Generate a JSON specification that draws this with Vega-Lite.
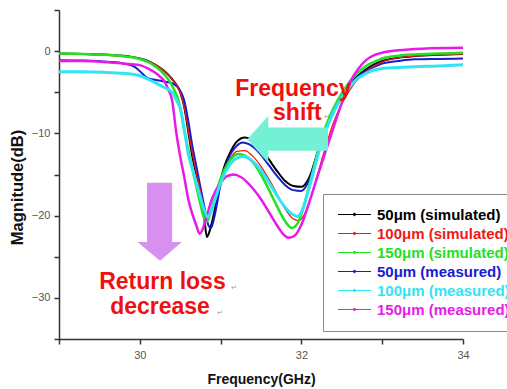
{
  "$schema": "https://vega.github.io/schema/vega-lite/v6.json",
  "width": 404,
  "height": 329,
  "autosize": {"type": "none"},
  "padding": {"left": 59, "top": 10, "right": 44, "bottom": 50},
  "config": {"view": {"stroke": null}, "font": "Liberation Sans"},
  "datasets": {
    "curves": [
      {"s":"50μm (simulated)","f":29.0,"m":-0.3},{"s":"50μm (simulated)","f":29.3,"m":-0.35},{"s":"50μm (simulated)","f":29.6,"m":-0.45},{"s":"50μm (simulated)","f":29.9,"m":-0.7},{"s":"50μm (simulated)","f":30.0,"m":-0.9},{"s":"50μm (simulated)","f":30.1,"m":-1.2},{"s":"50μm (simulated)","f":30.2,"m":-1.7},{"s":"50μm (simulated)","f":30.3,"m":-2.4},{"s":"50μm (simulated)","f":30.4,"m":-3.4},{"s":"50μm (simulated)","f":30.5,"m":-5.0},{"s":"50μm (simulated)","f":30.55,"m":-6.8},{"s":"50μm (simulated)","f":30.6,"m":-9.8},{"s":"50μm (simulated)","f":30.65,"m":-12.8},{"s":"50μm (simulated)","f":30.7,"m":-15.0},{"s":"50μm (simulated)","f":30.75,"m":-17.2},{"s":"50μm (simulated)","f":30.8,"m":-20.5},{"s":"50μm (simulated)","f":30.83,"m":-22.6},{"s":"50μm (simulated)","f":30.86,"m":-22.0},{"s":"50μm (simulated)","f":30.9,"m":-20.5},{"s":"50μm (simulated)","f":30.95,"m":-18.2},{"s":"50μm (simulated)","f":31.0,"m":-15.7},{"s":"50μm (simulated)","f":31.05,"m":-13.9},{"s":"50μm (simulated)","f":31.1,"m":-12.7},{"s":"50μm (simulated)","f":31.2,"m":-11.0},{"s":"50μm (simulated)","f":31.3,"m":-10.5},{"s":"50μm (simulated)","f":31.4,"m":-10.8},{"s":"50μm (simulated)","f":31.5,"m":-11.8},{"s":"50μm (simulated)","f":31.6,"m":-13.2},{"s":"50μm (simulated)","f":31.7,"m":-14.6},{"s":"50μm (simulated)","f":31.8,"m":-15.8},{"s":"50μm (simulated)","f":31.9,"m":-16.4},{"s":"50μm (simulated)","f":32.0,"m":-16.5},{"s":"50μm (simulated)","f":32.1,"m":-15.3},{"s":"50μm (simulated)","f":32.2,"m":-12.3},{"s":"50μm (simulated)","f":32.3,"m":-9.4},{"s":"50μm (simulated)","f":32.4,"m":-7.1},{"s":"50μm (simulated)","f":32.5,"m":-5.4},{"s":"50μm (simulated)","f":32.6,"m":-4.0},{"s":"50μm (simulated)","f":32.7,"m":-3.0},{"s":"50μm (simulated)","f":32.8,"m":-2.2},{"s":"50μm (simulated)","f":32.9,"m":-1.6},{"s":"50μm (simulated)","f":33.0,"m":-1.2},{"s":"50μm (simulated)","f":33.2,"m":-0.8},{"s":"50μm (simulated)","f":33.4,"m":-0.6},{"s":"50μm (simulated)","f":33.7,"m":-0.45},{"s":"50μm (simulated)","f":34.0,"m":-0.35},

      {"s":"100μm (simulated)","f":29.0,"m":-0.35},{"s":"100μm (simulated)","f":29.3,"m":-0.4},{"s":"100μm (simulated)","f":29.6,"m":-0.5},{"s":"100μm (simulated)","f":29.9,"m":-0.75},{"s":"100μm (simulated)","f":30.0,"m":-0.9},{"s":"100μm (simulated)","f":30.1,"m":-1.2},{"s":"100μm (simulated)","f":30.2,"m":-1.7},{"s":"100μm (simulated)","f":30.3,"m":-2.4},{"s":"100μm (simulated)","f":30.4,"m":-3.4},{"s":"100μm (simulated)","f":30.5,"m":-5.0},{"s":"100μm (simulated)","f":30.55,"m":-6.8},{"s":"100μm (simulated)","f":30.6,"m":-9.6},{"s":"100μm (simulated)","f":30.65,"m":-12.4},{"s":"100μm (simulated)","f":30.7,"m":-14.8},{"s":"100μm (simulated)","f":30.75,"m":-17.0},{"s":"100μm (simulated)","f":30.8,"m":-19.4},{"s":"100μm (simulated)","f":30.84,"m":-20.6},{"s":"100μm (simulated)","f":30.9,"m":-19.0},{"s":"100μm (simulated)","f":30.95,"m":-17.2},{"s":"100μm (simulated)","f":31.0,"m":-15.6},{"s":"100μm (simulated)","f":31.1,"m":-13.4},{"s":"100μm (simulated)","f":31.2,"m":-12.2},{"s":"100μm (simulated)","f":31.3,"m":-12.1},{"s":"100μm (simulated)","f":31.4,"m":-12.8},{"s":"100μm (simulated)","f":31.5,"m":-14.0},{"s":"100μm (simulated)","f":31.6,"m":-15.6},{"s":"100μm (simulated)","f":31.7,"m":-17.4},{"s":"100μm (simulated)","f":31.8,"m":-19.2},{"s":"100μm (simulated)","f":31.9,"m":-20.4},{"s":"100μm (simulated)","f":31.97,"m":-20.6},{"s":"100μm (simulated)","f":32.05,"m":-19.6},{"s":"100μm (simulated)","f":32.1,"m":-18.3},{"s":"100μm (simulated)","f":32.2,"m":-15.0},{"s":"100μm (simulated)","f":32.3,"m":-11.6},{"s":"100μm (simulated)","f":32.4,"m":-8.6},{"s":"100μm (simulated)","f":32.5,"m":-6.4},{"s":"100μm (simulated)","f":32.6,"m":-4.7},{"s":"100μm (simulated)","f":32.7,"m":-3.4},{"s":"100μm (simulated)","f":32.8,"m":-2.5},{"s":"100μm (simulated)","f":32.9,"m":-1.8},{"s":"100μm (simulated)","f":33.0,"m":-1.3},{"s":"100μm (simulated)","f":33.2,"m":-0.8},{"s":"100μm (simulated)","f":33.4,"m":-0.6},{"s":"100μm (simulated)","f":33.7,"m":-0.45},{"s":"100μm (simulated)","f":34.0,"m":-0.35},

      {"s":"150μm (simulated)","f":29.0,"m":-0.3},{"s":"150μm (simulated)","f":29.3,"m":-0.35},{"s":"150μm (simulated)","f":29.6,"m":-0.45},{"s":"150μm (simulated)","f":29.9,"m":-0.75},{"s":"150μm (simulated)","f":30.0,"m":-0.95},{"s":"150μm (simulated)","f":30.1,"m":-1.3},{"s":"150μm (simulated)","f":30.2,"m":-1.9},{"s":"150μm (simulated)","f":30.3,"m":-2.8},{"s":"150μm (simulated)","f":30.4,"m":-4.2},{"s":"150μm (simulated)","f":30.5,"m":-6.8},{"s":"150μm (simulated)","f":30.55,"m":-9.6},{"s":"150μm (simulated)","f":30.6,"m":-12.0},{"s":"150μm (simulated)","f":30.65,"m":-14.3},{"s":"150μm (simulated)","f":30.7,"m":-16.5},{"s":"150μm (simulated)","f":30.75,"m":-18.6},{"s":"150μm (simulated)","f":30.8,"m":-20.4},{"s":"150μm (simulated)","f":30.83,"m":-20.7},{"s":"150μm (simulated)","f":30.87,"m":-19.8},{"s":"150μm (simulated)","f":30.95,"m":-17.0},{"s":"150μm (simulated)","f":31.0,"m":-15.5},{"s":"150μm (simulated)","f":31.1,"m":-13.5},{"s":"150μm (simulated)","f":31.22,"m":-12.5},{"s":"150μm (simulated)","f":31.3,"m":-12.7},{"s":"150μm (simulated)","f":31.4,"m":-13.5},{"s":"150μm (simulated)","f":31.5,"m":-15.0},{"s":"150μm (simulated)","f":31.6,"m":-16.9},{"s":"150μm (simulated)","f":31.7,"m":-18.9},{"s":"150μm (simulated)","f":31.8,"m":-20.7},{"s":"150μm (simulated)","f":31.88,"m":-21.5},{"s":"150μm (simulated)","f":31.95,"m":-21.0},{"s":"150μm (simulated)","f":32.0,"m":-19.8},{"s":"150μm (simulated)","f":32.1,"m":-16.2},{"s":"150μm (simulated)","f":32.2,"m":-12.4},{"s":"150μm (simulated)","f":32.3,"m":-9.2},{"s":"150μm (simulated)","f":32.4,"m":-6.9},{"s":"150μm (simulated)","f":32.5,"m":-5.1},{"s":"150μm (simulated)","f":32.6,"m":-3.7},{"s":"150μm (simulated)","f":32.7,"m":-2.6},{"s":"150μm (simulated)","f":32.8,"m":-1.8},{"s":"150μm (simulated)","f":32.9,"m":-1.3},{"s":"150μm (simulated)","f":33.0,"m":-0.9},{"s":"150μm (simulated)","f":33.2,"m":-0.55},{"s":"150μm (simulated)","f":33.4,"m":-0.4},{"s":"150μm (simulated)","f":33.7,"m":-0.3},{"s":"150μm (simulated)","f":34.0,"m":-0.2},

      {"s":"50μm (measured)","f":29.0,"m":-1.1},{"s":"50μm (measured)","f":29.3,"m":-1.15},{"s":"50μm (measured)","f":29.6,"m":-1.3},{"s":"50μm (measured)","f":29.8,"m":-1.5},{"s":"50μm (measured)","f":29.95,"m":-2.0},{"s":"50μm (measured)","f":30.05,"m":-2.9},{"s":"50μm (measured)","f":30.1,"m":-3.3},{"s":"50μm (measured)","f":30.2,"m":-3.5},{"s":"50μm (measured)","f":30.3,"m":-3.7},{"s":"50μm (measured)","f":30.4,"m":-3.9},{"s":"50μm (measured)","f":30.5,"m":-4.8},{"s":"50μm (measured)","f":30.55,"m":-6.0},{"s":"50μm (measured)","f":30.6,"m":-8.5},{"s":"50μm (measured)","f":30.65,"m":-11.5},{"s":"50μm (measured)","f":30.7,"m":-14.0},{"s":"50μm (measured)","f":30.75,"m":-16.5},{"s":"50μm (measured)","f":30.8,"m":-19.0},{"s":"50μm (measured)","f":30.85,"m":-21.2},{"s":"50μm (measured)","f":30.88,"m":-21.5},{"s":"50μm (measured)","f":30.92,"m":-20.3},{"s":"50μm (measured)","f":30.97,"m":-17.8},{"s":"50μm (measured)","f":31.0,"m":-16.2},{"s":"50μm (measured)","f":31.05,"m":-14.3},{"s":"50μm (measured)","f":31.1,"m":-13.0},{"s":"50μm (measured)","f":31.2,"m":-11.5},{"s":"50μm (measured)","f":31.27,"m":-11.1},{"s":"50μm (measured)","f":31.35,"m":-11.3},{"s":"50μm (measured)","f":31.5,"m":-12.6},{"s":"50μm (measured)","f":31.6,"m":-13.9},{"s":"50μm (measured)","f":31.7,"m":-15.2},{"s":"50μm (measured)","f":31.8,"m":-16.3},{"s":"50μm (measured)","f":31.9,"m":-16.9},{"s":"50μm (measured)","f":32.0,"m":-17.0},{"s":"50μm (measured)","f":32.1,"m":-15.6},{"s":"50μm (measured)","f":32.2,"m":-12.5},{"s":"50μm (measured)","f":32.3,"m":-9.6},{"s":"50μm (measured)","f":32.4,"m":-7.3},{"s":"50μm (measured)","f":32.5,"m":-5.5},{"s":"50μm (measured)","f":32.6,"m":-4.1},{"s":"50μm (measured)","f":32.7,"m":-3.1},{"s":"50μm (measured)","f":32.8,"m":-2.4},{"s":"50μm (measured)","f":32.9,"m":-1.9},{"s":"50μm (measured)","f":33.0,"m":-1.5},{"s":"50μm (measured)","f":33.2,"m":-1.2},{"s":"50μm (measured)","f":33.4,"m":-1.0},{"s":"50μm (measured)","f":33.7,"m":-0.95},{"s":"50μm (measured)","f":34.0,"m":-0.9},

      {"s":"100μm (measured)","f":29.0,"m":-2.5},{"s":"100μm (measured)","f":29.3,"m":-2.5},{"s":"100μm (measured)","f":29.6,"m":-2.6},{"s":"100μm (measured)","f":29.8,"m":-2.7},{"s":"100μm (measured)","f":30.0,"m":-3.0},{"s":"100μm (measured)","f":30.1,"m":-3.4},{"s":"100μm (measured)","f":30.2,"m":-3.9},{"s":"100μm (measured)","f":30.3,"m":-4.4},{"s":"100μm (measured)","f":30.4,"m":-5.0},{"s":"100μm (measured)","f":30.45,"m":-5.9},{"s":"100μm (measured)","f":30.5,"m":-7.0},{"s":"100μm (measured)","f":30.55,"m":-9.5},{"s":"100μm (measured)","f":30.6,"m":-12.5},{"s":"100μm (measured)","f":30.65,"m":-14.3},{"s":"100μm (measured)","f":30.7,"m":-16.0},{"s":"100μm (measured)","f":30.75,"m":-17.8},{"s":"100μm (measured)","f":30.8,"m":-19.4},{"s":"100μm (measured)","f":30.84,"m":-20.2},{"s":"100μm (measured)","f":30.9,"m":-19.0},{"s":"100μm (measured)","f":30.95,"m":-17.5},{"s":"100μm (measured)","f":31.0,"m":-16.0},{"s":"100μm (measured)","f":31.1,"m":-14.0},{"s":"100μm (measured)","f":31.2,"m":-13.0},{"s":"100μm (measured)","f":31.28,"m":-12.8},{"s":"100μm (measured)","f":31.4,"m":-13.4},{"s":"100μm (measured)","f":31.5,"m":-14.5},{"s":"100μm (measured)","f":31.6,"m":-16.0},{"s":"100μm (measured)","f":31.7,"m":-17.6},{"s":"100μm (measured)","f":31.8,"m":-19.0},{"s":"100μm (measured)","f":31.9,"m":-19.9},{"s":"100μm (measured)","f":31.95,"m":-20.1},{"s":"100μm (measured)","f":32.0,"m":-19.6},{"s":"100μm (measured)","f":32.1,"m":-16.5},{"s":"100μm (measured)","f":32.2,"m":-12.8},{"s":"100μm (measured)","f":32.3,"m":-9.7},{"s":"100μm (measured)","f":32.4,"m":-7.4},{"s":"100μm (measured)","f":32.5,"m":-5.6},{"s":"100μm (measured)","f":32.6,"m":-4.3},{"s":"100μm (measured)","f":32.7,"m":-3.3},{"s":"100μm (measured)","f":32.8,"m":-2.7},{"s":"100μm (measured)","f":32.9,"m":-2.3},{"s":"100μm (measured)","f":33.0,"m":-2.1},{"s":"100μm (measured)","f":33.2,"m":-2.0},{"s":"100μm (measured)","f":33.4,"m":-1.9},{"s":"100μm (measured)","f":33.7,"m":-1.8},{"s":"100μm (measured)","f":34.0,"m":-1.65},

      {"s":"150μm (measured)","f":29.0,"m":-1.2},{"s":"150μm (measured)","f":29.3,"m":-1.2},{"s":"150μm (measured)","f":29.6,"m":-1.35},{"s":"150μm (measured)","f":29.9,"m":-1.6},{"s":"150μm (measured)","f":30.0,"m":-1.7},{"s":"150μm (measured)","f":30.1,"m":-2.1},{"s":"150μm (measured)","f":30.2,"m":-2.7},{"s":"150μm (measured)","f":30.25,"m":-3.1},{"s":"150μm (measured)","f":30.3,"m":-3.6},{"s":"150μm (measured)","f":30.35,"m":-4.6},{"s":"150μm (measured)","f":30.4,"m":-6.0},{"s":"150μm (measured)","f":30.45,"m":-9.8},{"s":"150μm (measured)","f":30.5,"m":-12.8},{"s":"150μm (measured)","f":30.55,"m":-15.3},{"s":"150μm (measured)","f":30.6,"m":-18.0},{"s":"150μm (measured)","f":30.65,"m":-19.8},{"s":"150μm (measured)","f":30.7,"m":-21.2},{"s":"150μm (measured)","f":30.74,"m":-22.2},{"s":"150μm (measured)","f":30.78,"m":-21.6},{"s":"150μm (measured)","f":30.83,"m":-20.0},{"s":"150μm (measured)","f":30.9,"m":-17.8},{"s":"150μm (measured)","f":31.0,"m":-16.0},{"s":"150μm (measured)","f":31.08,"m":-15.2},{"s":"150μm (measured)","f":31.16,"m":-15.0},{"s":"150μm (measured)","f":31.25,"m":-15.3},{"s":"150μm (measured)","f":31.4,"m":-16.7},{"s":"150μm (measured)","f":31.5,"m":-18.0},{"s":"150μm (measured)","f":31.6,"m":-19.6},{"s":"150μm (measured)","f":31.7,"m":-21.2},{"s":"150μm (measured)","f":31.78,"m":-22.3},{"s":"150μm (measured)","f":31.85,"m":-22.7},{"s":"150μm (measured)","f":31.92,"m":-22.4},{"s":"150μm (measured)","f":32.0,"m":-21.1},{"s":"150μm (measured)","f":32.1,"m":-18.3},{"s":"150μm (measured)","f":32.2,"m":-15.2},{"s":"150μm (measured)","f":32.3,"m":-12.2},{"s":"150μm (measured)","f":32.4,"m":-9.2},{"s":"150μm (measured)","f":32.5,"m":-6.3},{"s":"150μm (measured)","f":32.6,"m":-3.8},{"s":"150μm (measured)","f":32.7,"m":-2.2},{"s":"150μm (measured)","f":32.8,"m":-1.1},{"s":"150μm (measured)","f":32.9,"m":-0.5},{"s":"150μm (measured)","f":33.0,"m":-0.2},{"s":"150μm (measured)","f":33.2,"m":0.1},{"s":"150μm (measured)","f":33.5,"m":0.3},{"s":"150μm (measured)","f":34.0,"m":0.4}
    ],
    "shafts": [
      {"a":"down","x1":30.09,"x2":30.4,"y1":-16.0,"y2":-23.25},
      {"a":"left","x1":31.57,"x2":32.33,"y1":-9.3,"y2":-12.1}
    ],
    "heads": [
      {"a":"down","x":29.97,"top":-23.2,"bot":-23.2},
      {"a":"down","x":30.25,"top":-23.2,"bot":-25.5},
      {"a":"down","x":30.52,"top":-23.2,"bot":-23.2},
      {"a":"left","y":-7.9,"xl":31.59,"xr":31.59},
      {"a":"left","y":-10.7,"xl":31.33,"xr":31.59},
      {"a":"left","y":-13.6,"xl":31.59,"xr":31.59}
    ],
    "notes": [
      {"t":"Frequency","x":31.9,"y":-5.5},
      {"t":"shift","x":31.95,"y":-8.4},
      {"t":"Return loss","x":30.28,"y":-28.9},
      {"t":"decrease","x":30.25,"y":-32.0}
    ],
    "returns": [
      {"x":32.28,"y":-8.3},
      {"x":31.13,"y":-29.0},
      {"x":30.96,"y":-32.1}
    ]
  },
  "layer": [
    {
      "data": {"name": "curves"},
      "encoding": {
        "x": {"field": "f", "type": "quantitative",
          "scale": {"domain": [29, 34], "nice": false, "zero": false},
          "axis": {"values": [29, 30, 31, 32, 33, 34], "format": "d", "labelExpr": "datum.value % 2 === 0 ? datum.label : ''",
            "title": "Frequency(GHz)", "titleFontSize": 14, "titleFontWeight": "bold", "titleColor": "#111", "titlePadding": 12,
            "grid": false, "tickSize": 5, "tickWidth": 1.5, "tickColor": "#333", "domainColor": "#333", "domainWidth": 1.5,
            "labelFontSize": 11, "labelColor": "#555", "labelPadding": 5, "labelFlush": false}},
        "y": {"field": "m", "type": "quantitative",
          "scale": {"domain": [-35, 5], "nice": false, "zero": false},
          "axis": {"values": [-35, -30, -25, -20, -15, -10, -5, 0, 5], "format": "d", "labelExpr": "datum.value % 10 === 0 ? datum.label : ''",
            "title": "Magnitude(dB)", "titleFontSize": 16.5, "titleFontWeight": "bold", "titleColor": "#111", "titleX": -42, "titleY": 177, "titleBaseline": "middle",
            "grid": false, "tickSize": 5, "tickWidth": 1.5, "tickColor": "#333", "domainColor": "#333", "domainWidth": 1.5,
            "labelFontSize": 11, "labelColor": "#555", "labelPadding": 4}},
        "color": {"field": "s", "type": "nominal",
          "scale": {"domain": ["50μm (simulated)", "100μm (simulated)", "150μm (simulated)", "50μm (measured)", "100μm (measured)", "150μm (measured)"],
            "range": ["#000000", "#f01818", "#22e022", "#1a1ad0", "#30e4f4", "#e81ae8"]},
          "legend": {"title": null, "orient": "none", "legendX": 264, "legendY": 184,
            "symbolType": "M-3,0L3,0M-0.22,0a0.22,0.22 0 1,0 0.44,0a0.22,0.22 0 1,0 -0.44,0", "symbolSize": 121, "symbolStrokeWidth": 1,
            "labelFontSize": 15, "labelFontWeight": "bold", "labelLimit": 300, "padding": 13, "rowPadding": 3,
            "labelOffset": 15, "symbolOffset": 11, "strokeColor": "#888", "fillColor": "white",
            "encode": {"labels": {"update": {"fill": {"scale": "color", "field": "value"}}},
                       "symbols": {"update": {"fill": {"scale": "color", "field": "value"}, "stroke": {"scale": "color", "field": "value"}, "strokeWidth": {"value": 1}, "opacity": {"value": 1}}}}}}
      },
      "layer": [
        {"transform": [{"filter": "datum.s === '50μm (simulated)' || datum.s === '50μm (measured)'"}],
         "mark": {"type": "line", "interpolate": "monotone", "strokeWidth": 2}},
        {"transform": [{"filter": "datum.s === '100μm (simulated)'"}],
         "mark": {"type": "line", "interpolate": "monotone", "strokeWidth": 1.3}},
        {"transform": [{"filter": "datum.s === '150μm (simulated)' || datum.s === '150μm (measured)'"}],
         "mark": {"type": "line", "interpolate": "monotone", "strokeWidth": 2.5}},
        {"transform": [{"filter": "datum.s === '100μm (measured)'"}],
         "mark": {"type": "line", "interpolate": "monotone", "strokeWidth": 3}}
      ]
    },
    {
      "data": {"name": "shafts"},
      "transform": [{"filter": "datum.a === 'down'"}],
      "mark": {"type": "rect", "color": "#d890f0"},
      "encoding": {"x": {"field": "x1", "type": "quantitative"}, "x2": {"field": "x2"}, "y": {"field": "y1", "type": "quantitative"}, "y2": {"field": "y2"}}
    },
    {
      "data": {"name": "heads"},
      "transform": [{"filter": "datum.a === 'down'"}],
      "mark": {"type": "area", "color": "#d890f0", "opacity": 1},
      "encoding": {"x": {"field": "x", "type": "quantitative"}, "y": {"field": "top", "type": "quantitative"}, "y2": {"field": "bot"}}
    },
    {
      "data": {"name": "shafts"},
      "transform": [{"filter": "datum.a === 'left'"}],
      "mark": {"type": "rect", "color": "#74f0d4"},
      "encoding": {"x": {"field": "x1", "type": "quantitative"}, "x2": {"field": "x2"}, "y": {"field": "y1", "type": "quantitative"}, "y2": {"field": "y2"}}
    },
    {
      "data": {"name": "heads"},
      "transform": [{"filter": "datum.a === 'left'"}],
      "mark": {"type": "area", "color": "#74f0d4", "orient": "horizontal", "opacity": 1},
      "encoding": {"y": {"field": "y", "type": "quantitative"}, "x": {"field": "xl", "type": "quantitative"}, "x2": {"field": "xr"}}
    },
    {
      "data": {"name": "notes"},
      "mark": {"type": "text", "color": "#f01010", "fontSize": 23, "fontWeight": "bold", "align": "center", "baseline": "alphabetic"},
      "encoding": {"x": {"field": "x", "type": "quantitative"}, "y": {"field": "y", "type": "quantitative"}, "text": {"field": "t"}}
    },
    {
      "data": {"name": "returns"},
      "mark": {"type": "text", "color": "#999999", "fontSize": 7, "align": "left", "baseline": "alphabetic"},
      "encoding": {"x": {"field": "x", "type": "quantitative"}, "y": {"field": "y", "type": "quantitative"}, "text": {"value": "↵"}}
    }
  ]
}
